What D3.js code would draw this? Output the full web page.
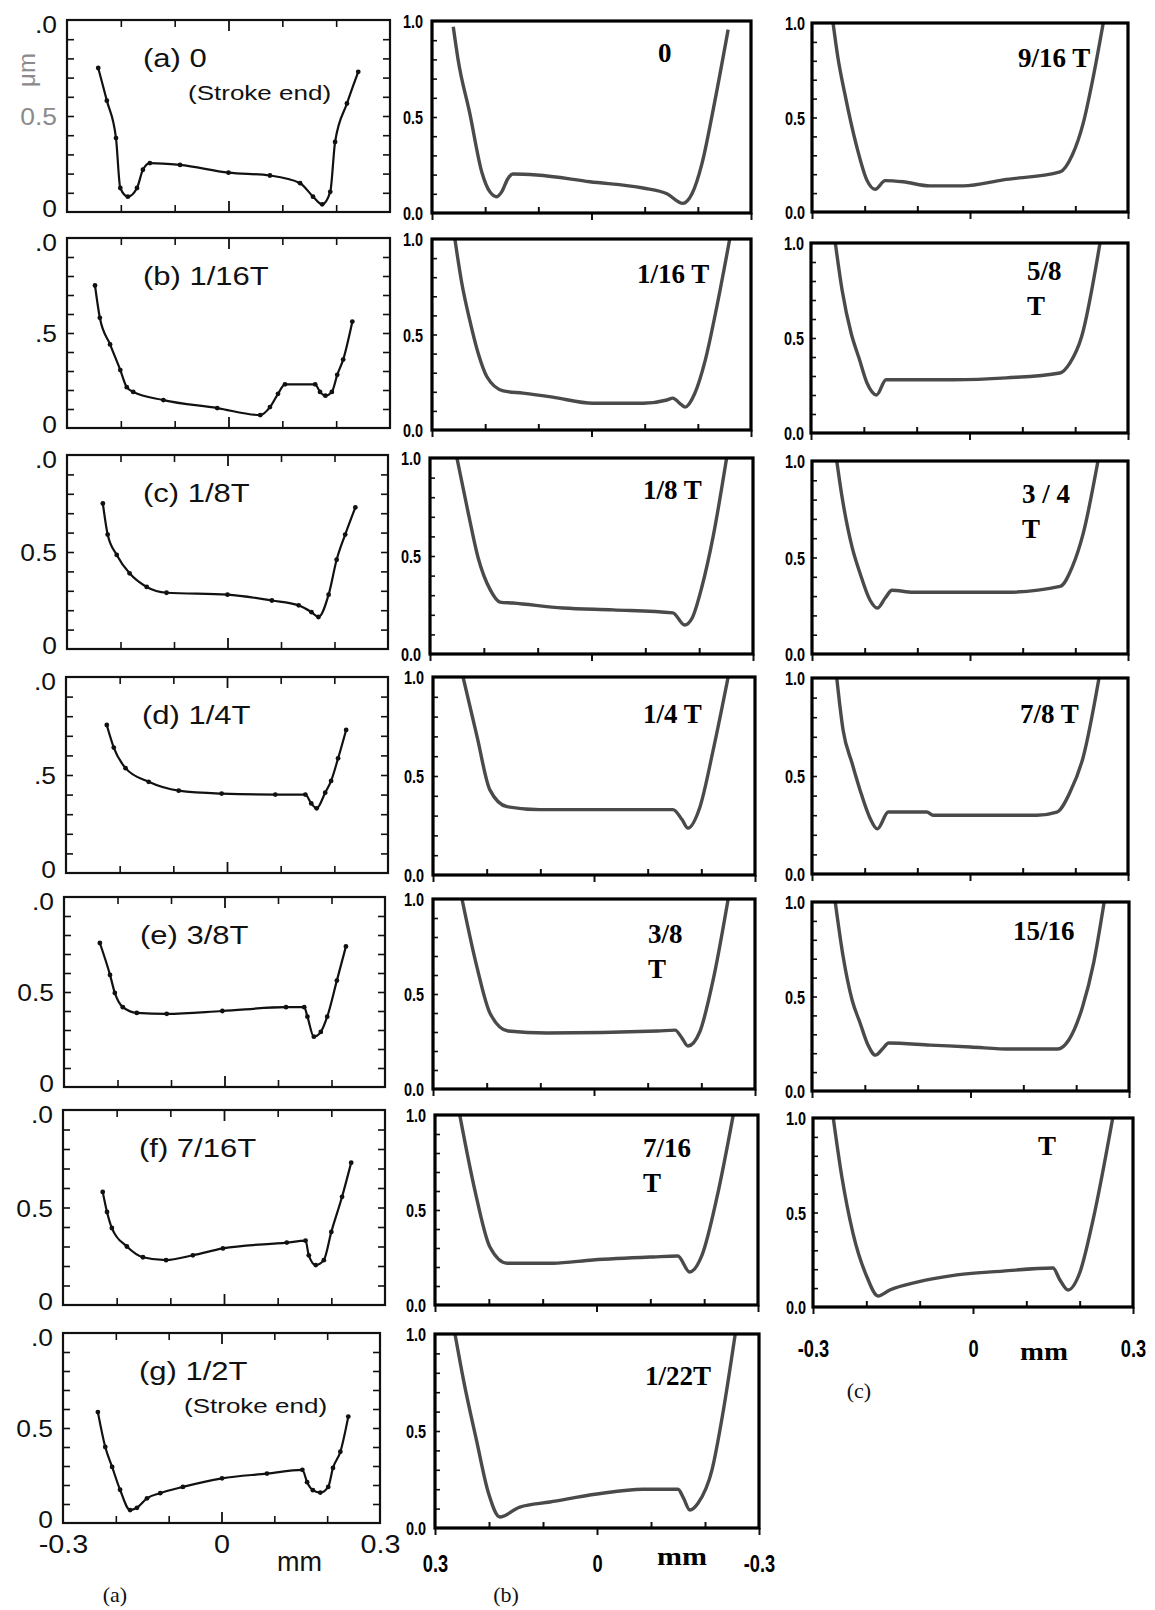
<!DOCTYPE html>
<html>
<head>
<meta charset="utf-8">
<script src="https://cdn.jsdelivr.net/npm/d3@7"></script>
<style>
  body { margin: 0; background: #fff; }
  svg { display: block; }
</style>
</head>
<body>
<svg id="fig" width="1155" height="1610"></svg>
<script>
// ---- data: film thickness (um) vs position (mm) ----
// column (a): measured, with markers
const titlesA = ["(a) 0", "(b) 1/16T", "(c) 1/8T", "(d) 1/4T", "(e) 3/8T", "(f) 7/16T", "(g) 1/2T"];
const notesA = ["(Stroke end)", "", "", "", "", "", "(Stroke end)"];
const midLabelsA = ["0.5", ".5", "0.5", ".5", "0.5", "0.5", "0.5"];

const filmA_0 = [[-0.242,0.75],[-0.226,0.58],[-0.209,0.385],[-0.201,0.125],[-0.187,0.08],[-0.17,0.125],[-0.159,0.22],[-0.146,0.255],[-0.09,0.245],[0.0,0.205],[0.077,0.19],[0.133,0.15],[0.157,0.08],[0.174,0.04],[0.189,0.105],[0.198,0.365],[0.22,0.565],[0.241,0.73]];
const filmA_1 = [[-0.248,0.75],[-0.239,0.58],[-0.22,0.44],[-0.201,0.305],[-0.189,0.215],[-0.177,0.19],[-0.121,0.147],[-0.021,0.105],[0.059,0.068],[0.077,0.11],[0.092,0.18],[0.105,0.23],[0.161,0.23],[0.17,0.19],[0.18,0.17],[0.192,0.19],[0.202,0.28],[0.213,0.36],[0.23,0.56]];
const filmA_2 = [[-0.233,0.75],[-0.224,0.59],[-0.207,0.485],[-0.183,0.39],[-0.151,0.32],[-0.114,0.29],[0.0,0.28],[0.083,0.25],[0.133,0.225],[0.157,0.19],[0.17,0.165],[0.189,0.28],[0.204,0.46],[0.22,0.59],[0.239,0.73]];
const filmA_3 = [[-0.224,0.755],[-0.211,0.64],[-0.189,0.535],[-0.146,0.465],[-0.09,0.42],[-0.01,0.405],[0.09,0.40],[0.146,0.40],[0.157,0.355],[0.167,0.33],[0.183,0.41],[0.194,0.47],[0.207,0.585],[0.222,0.73]];
const filmA_4 = [[-0.233,0.758],[-0.214,0.59],[-0.205,0.495],[-0.19,0.42],[-0.164,0.39],[-0.108,0.385],[-0.004,0.40],[0.115,0.42],[0.149,0.42],[0.155,0.37],[0.167,0.265],[0.18,0.29],[0.192,0.37],[0.21,0.56],[0.227,0.74]];
const filmA_5 = [[-0.226,0.58],[-0.218,0.477],[-0.209,0.395],[-0.181,0.30],[-0.151,0.245],[-0.108,0.23],[-0.058,0.255],[-0.002,0.29],[0.117,0.32],[0.152,0.33],[0.158,0.255],[0.171,0.205],[0.186,0.23],[0.2,0.375],[0.22,0.555],[0.237,0.73]];
const filmA_6 = [[-0.234,0.584],[-0.22,0.40],[-0.207,0.295],[-0.192,0.175],[-0.173,0.068],[-0.16,0.08],[-0.141,0.13],[-0.116,0.157],[-0.073,0.19],[0.001,0.235],[0.086,0.26],[0.153,0.28],[0.162,0.215],[0.173,0.173],[0.187,0.16],[0.202,0.19],[0.211,0.29],[0.225,0.375],[0.24,0.56]];
const seriesA = [filmA_0, filmA_1, filmA_2, filmA_3, filmA_4, filmA_5, filmA_6];

// column (b): computed, x axis runs 0.3 -> -0.3
const titlesB = [["0"], ["1/16 T"], ["1/8 T"], ["1/4 T"], ["3/8", "T"], ["7/16", "T"], ["1/22T"]];
const filmB_0 = [[0.26,0.97],[0.251,0.80],[0.229,0.52],[0.206,0.21],[0.191,0.11],[0.178,0.085],[0.169,0.11],[0.157,0.18],[0.148,0.203],[0.103,0.198],[0.003,0.163],[-0.097,0.13],[-0.142,0.10],[-0.172,0.05],[-0.189,0.10],[-0.208,0.26],[-0.229,0.54],[-0.257,0.955]];
const filmB_1 = [[0.257,1.0],[0.244,0.77],[0.229,0.575],[0.213,0.40],[0.197,0.28],[0.166,0.205],[0.129,0.193],[0.073,0.172],[-0.003,0.14],[-0.097,0.14],[-0.142,0.157],[-0.153,0.167],[-0.166,0.14],[-0.176,0.12],[-0.194,0.19],[-0.214,0.366],[-0.236,0.65],[-0.26,1.0]];
const filmB_2 = [[0.25,1.0],[0.229,0.72],[0.211,0.495],[0.188,0.327],[0.17,0.265],[0.146,0.26],[0.053,0.235],[-0.04,0.225],[-0.151,0.21],[-0.173,0.148],[-0.187,0.184],[-0.205,0.342],[-0.226,0.60],[-0.251,1.0]];
const filmB_3 = [[0.244,1.0],[0.218,0.70],[0.194,0.43],[0.162,0.345],[0.101,0.33],[-0.147,0.33],[-0.164,0.28],[-0.175,0.237],[-0.197,0.34],[-0.222,0.63],[-0.25,1.0]];
const filmB_4 = [[0.246,1.0],[0.218,0.64],[0.194,0.40],[0.16,0.305],[0.088,0.295],[-0.118,0.305],[-0.151,0.31],[-0.164,0.268],[-0.175,0.226],[-0.197,0.30],[-0.222,0.574],[-0.25,1.0]];
const filmB_5 = [[0.254,1.0],[0.226,0.605],[0.198,0.305],[0.166,0.22],[0.081,0.22],[0.007,0.237],[-0.105,0.253],[-0.151,0.258],[-0.173,0.174],[-0.196,0.263],[-0.224,0.57],[-0.254,1.0]];
const filmB_6 = [[0.263,1.0],[0.247,0.76],[0.223,0.45],[0.201,0.18],[0.18,0.057],[0.143,0.108],[0.087,0.134],[0.0,0.175],[-0.085,0.2],[-0.15,0.2],[-0.16,0.155],[-0.172,0.093],[-0.187,0.128],[-0.213,0.30],[-0.233,0.59],[-0.256,1.0]];
const seriesB = [filmB_0, filmB_1, filmB_2, filmB_3, filmB_4, filmB_5, filmB_6];

// column (c): computed, second half of the cycle
const titlesC = [["9/16 T"], ["5/8", "T"], ["3 / 4", "T"], ["7/8 T"], ["15/16"], ["T"]];
const filmC_0 = [[-0.26,1.0],[-0.251,0.82],[-0.238,0.63],[-0.215,0.345],[-0.196,0.17],[-0.18,0.12],[-0.161,0.166],[-0.127,0.16],[-0.076,0.138],[-0.013,0.138],[0.063,0.17],[0.171,0.212],[0.194,0.30],[0.215,0.47],[0.233,0.70],[0.253,1.0]];
const filmC_1 = [[-0.254,1.0],[-0.241,0.75],[-0.224,0.525],[-0.209,0.393],[-0.194,0.263],[-0.176,0.2],[-0.158,0.28],[-0.032,0.28],[0.07,0.29],[0.171,0.316],[0.19,0.368],[0.212,0.505],[0.247,1.0]];
const filmC_2 = [[-0.253,1.0],[-0.243,0.815],[-0.224,0.555],[-0.209,0.42],[-0.19,0.28],[-0.176,0.238],[-0.161,0.29],[-0.148,0.33],[-0.108,0.32],[0.07,0.32],[0.171,0.35],[0.194,0.45],[0.215,0.625],[0.243,1.0]];
const filmC_3 = [[-0.253,1.0],[-0.241,0.735],[-0.224,0.566],[-0.209,0.43],[-0.19,0.286],[-0.176,0.23],[-0.155,0.316],[-0.082,0.316],[-0.07,0.30],[0.127,0.30],[0.165,0.316],[0.19,0.418],[0.215,0.597],[0.245,1.0]];
const filmC_4 = [[-0.256,1.0],[-0.241,0.71],[-0.224,0.48],[-0.209,0.36],[-0.194,0.243],[-0.18,0.19],[-0.165,0.228],[-0.155,0.254],[-0.076,0.243],[0.0,0.233],[0.076,0.222],[0.165,0.222],[0.186,0.27],[0.212,0.445],[0.233,0.677],[0.253,1.0]];
const filmC_5 = [[-0.262,1.0],[-0.246,0.69],[-0.225,0.39],[-0.199,0.16],[-0.178,0.058],[-0.156,0.09],[-0.105,0.132],[-0.03,0.17],[0.056,0.19],[0.15,0.206],[0.163,0.143],[0.178,0.09],[0.2,0.18],[0.225,0.46],[0.262,1.0]];
const seriesC = [filmC_0, filmC_1, filmC_2, filmC_3, filmC_4, filmC_5];

// ticks
const yMinor = [0.1, 0.2, 0.3, 0.4, 0.5, 0.6, 0.7, 0.8, 0.9];
const xMinor = [-0.2, -0.1, 0.1, 0.2];
const xMajor = [-0.3, 0, 0.3];
const yLabelVals = [0, 0.5, 1.0];
const xLabelsA = ["-0.3", "0", "0.3"];
const xLabelsB = ["0.3", "0", "-0.3"];
const xLabelsC = ["-0.3", "0", "0.3"];

// ---- layout: panel frames [left, right, top, bottom] ----
const layoutA = [[67,390,20,212],[67,390,238,428],[67,388,455,649],[66,388,677,873],[64,385,897,1087],[63,385,1110,1305],[63,380,1333,1523]];
const layoutB = [[432,751,21,213],[432,751,239,430],[430,753,458,654],[433,755,677,875],[433,755,899,1089],[435,758,1115,1305],[435,759,1334,1528]];
const layoutC = [[812,1128,23,212],[811,1128,243,433],[812,1128,461,654],[812,1128,678,874],[812,1129,902,1091],[813,1133,1118,1307]];
const titlePosB = [[658,62],[637,283],[643,499],[643,723],[648,943],[643,1157],[645,1385]];
const titlePosC = [[1018,67],[1027,280],[1022,503],[1020,723],[1013,940],[1038,1155]];

const sans = "'Liberation Sans', Arial, Helvetica, sans-serif";
const serif = "'Liberation Serif', 'Times New Roman', serif";

const svg = d3.select('#fig');
svg.append('rect').attr('width', 1155).attr('height', 1610).attr('fill', '#fff');
const defs = svg.append('defs');

function stretch(sel, k) {
    sel.each(function() {
        const w = this.getComputedTextLength();
        d3.select(this).attr('textLength', w * k).attr('lengthAdjust', 'spacingAndGlyphs');
    });
}

function cleanAxis(ax, w) {
    ax.select('.domain').remove();
    ax.selectAll('.tick line').attr('stroke', '#111').attr('stroke-width', w);
}

// ---- column (a) ----
seriesA.forEach((data, i) => {
    const [l, r, t, b] = layoutA[i];
    const x = d3.scaleLinear().domain([-0.3, 0.3]).range([l, r]);
    const y = d3.scaleLinear().domain([0, 1]).range([b, t]);
    const g = svg.append('g');

    cleanAxis(g.append('g').attr('transform', `translate(${l},0)`)
        .call(d3.axisLeft(y).tickValues(yMinor).tickSize(-7).tickFormat('')), 1.6);
    cleanAxis(g.append('g').attr('transform', `translate(${r},0)`)
        .call(d3.axisRight(y).tickValues(yMinor).tickSize(-7).tickFormat('')), 1.6);
    cleanAxis(g.append('g').attr('transform', `translate(0,${b})`)
        .call(d3.axisBottom(x).tickValues(xMinor).tickSize(-7).tickFormat('')), 1.6);
    cleanAxis(g.append('g').attr('transform', `translate(0,${t})`)
        .call(d3.axisTop(x).tickValues(xMinor).tickSize(-7).tickFormat('')), 1.6);
    cleanAxis(g.append('g').attr('transform', `translate(0,${b})`)
        .call(d3.axisBottom(x).tickValues([0]).tickSize(-11).tickFormat('')), 1.8);
    cleanAxis(g.append('g').attr('transform', `translate(0,${t})`)
        .call(d3.axisTop(x).tickValues([0]).tickSize(-11).tickFormat('')), 1.8);

    g.append('rect').attr('x', l).attr('y', t).attr('width', r - l).attr('height', b - t)
        .attr('fill', 'none').attr('stroke', '#111').attr('stroke-width', 2.2);

    const yl = g.append('g').attr('transform', `translate(${l},0)`)
        .call(d3.axisLeft(y).tickValues(yLabelVals).tickSize(0).tickPadding(10)
            .tickFormat((d, k) => [ "0", midLabelsA[i], ".0" ][k]));
    yl.select('.domain').remove();
    yl.selectAll('text').attr('font-family', sans).attr('font-size', 24).attr('fill', '#111')
        .attr('dy', d => d === 0 ? '0.18em' : d === 1 ? '0.52em' : '0.36em');
    if (i === 0) yl.selectAll('text').filter((d) => d === 0.5).attr('fill', '#8a8a8a');
    stretch(yl.selectAll('text'), 1.1);

    g.append('path').datum(data)
        .attr('d', d3.line().x(d => x(d[0])).y(d => y(d[1])).curve(d3.curveMonotoneX))
        .attr('fill', 'none').attr('stroke', '#111').attr('stroke-width', 2.2);
    g.selectAll('circle').data(data).join('circle')
        .attr('cx', d => x(d[0])).attr('cy', d => y(d[1])).attr('r', 2.4).attr('fill', '#111');

    const tt = g.append('text').attr('x', l + 76).attr('y', t + 47)
        .attr('font-family', sans).attr('font-size', 25).attr('fill', '#111').text(titlesA[i]);
    stretch(tt, 1.24);
    if (notesA[i]) {
        const nt = g.append('text').attr('x', l + 121).attr('y', t + 80)
            .attr('font-family', sans).attr('font-size', 20).attr('fill', '#111').text(notesA[i]);
        stretch(nt, 1.3);
    }

    if (i === seriesA.length - 1) {
        const xl = g.append('g').attr('transform', `translate(0,${b})`)
            .call(d3.axisBottom(x).tickValues(xMajor).tickSize(0).tickPadding(12)
                .tickFormat((d, k) => xLabelsA[k]));
        xl.select('.domain').remove();
        xl.selectAll('text').attr('font-family', sans).attr('font-size', 25).attr('fill', '#111');
        stretch(xl.selectAll('text'), 1.15);
    }
});

svg.append('text').attr('transform', 'translate(35,70) rotate(-90)')
    .attr('text-anchor', 'middle').attr('font-family', sans).attr('font-size', 24)
    .attr('fill', '#8a8a8a').text('μm');
svg.append('text').attr('x', 277).attr('y', 1571).attr('font-family', sans)
    .attr('font-size', 27).attr('fill', '#111').text('mm');
svg.append('text').attr('x', 115).attr('y', 1602).attr('text-anchor', 'middle')
    .attr('font-family', serif).attr('font-size', 22).attr('fill', '#111').text('(a)');

// ---- columns (b) and (c): shared drawing ----
function drawSimPanel(data, frame, domain, title, pos, last, xLabels, idx, col) {
    const [l, r, t, b] = frame;
    const x = d3.scaleLinear().domain(domain).range([l, r]);
    const y = d3.scaleLinear().domain([0, 1]).range([b, t]);
    const g = svg.append('g');
    const clipId = `clip-${col}-${idx}`;
    defs.append('clipPath').attr('id', clipId).append('rect')
        .attr('x', l).attr('y', t).attr('width', r - l).attr('height', b - t);

    cleanAxis(g.append('g').attr('transform', `translate(${l},0)`)
        .call(d3.axisLeft(y).tickValues(yMinor).tickSize(-5).tickFormat('')), 1.6);
    cleanAxis(g.append('g').attr('transform', `translate(0,${b})`)
        .call(d3.axisBottom(x).tickValues(xMinor).tickSize(-6).tickFormat('')), 2);
    cleanAxis(g.append('g').attr('transform', `translate(0,${b})`)
        .call(d3.axisBottom(x).tickValues(xMajor).tickSize(7).tickFormat('')), 2);

    g.append('path').datum(data)
        .attr('clip-path', `url(#${clipId})`)
        .attr('d', d3.line().x(d => x(d[0])).y(d => y(d[1])).curve(d3.curveMonotoneX))
        .attr('fill', 'none').attr('stroke', '#4a4a4a').attr('stroke-width', 3.4)
        .attr('stroke-linejoin', 'round');

    g.append('rect').attr('x', l).attr('y', t).attr('width', r - l).attr('height', b - t)
        .attr('fill', 'none').attr('stroke', '#000').attr('stroke-width', 3.2);

    const yl = g.append('g').attr('transform', `translate(${l},0)`)
        .call(d3.axisLeft(y).tickValues(yLabelVals).tickSize(0).tickPadding(col === 'b' ? 9 : 7)
            .tickFormat(d3.format('.1f')));
    yl.select('.domain').remove();
    yl.selectAll('text').attr('font-family', sans).attr('font-weight', 'bold')
        .attr('font-size', 19).attr('fill', '#000').attr('dy', '0.36em');
    stretch(yl.selectAll('text'), 0.76);

    title.forEach((line, k) => {
        g.append('text').attr('x', pos[0]).attr('y', pos[1] + k * 35)
            .attr('font-family', serif).attr('font-weight', 'bold').attr('font-size', 27)
            .attr('fill', '#000').text(line);
    });

    if (last) {
        const xl = g.append('g').attr('transform', `translate(0,${b})`)
            .call(d3.axisBottom(x).tickValues(xMajor.slice().sort((p, q) => domain[0] > domain[1] ? q - p : p - q))
                .tickSize(0).tickPadding(col === 'b' ? 27 : 33)
                .tickFormat((d, k) => xLabels[k]));
        xl.select('.domain').remove();
        xl.selectAll('text').attr('font-family', sans).attr('font-weight', 'bold')
            .attr('font-size', 24).attr('fill', '#000');
        stretch(xl.selectAll('text'), 0.76);
    }
}

seriesB.forEach((data, i) => drawSimPanel(data, layoutB[i], [0.3, -0.3], titlesB[i], titlePosB[i],
    i === seriesB.length - 1, xLabelsB, i, 'b'));
seriesC.forEach((data, i) => drawSimPanel(data, layoutC[i], [-0.3, 0.3], titlesC[i], titlePosC[i],
    i === seriesC.length - 1, xLabelsC, i, 'c'));

const mmB = svg.append('text').attr('x', 657).attr('y', 1565).attr('font-family', serif)
    .attr('font-weight', 'bold').attr('font-size', 25).attr('fill', '#000').text('mm');
stretch(mmB, 1.2);
const mmC = svg.append('text').attr('x', 1020).attr('y', 1360).attr('font-family', serif)
    .attr('font-weight', 'bold').attr('font-size', 25).attr('fill', '#000').text('mm');
stretch(mmC, 1.15);
svg.append('text').attr('x', 506).attr('y', 1602).attr('text-anchor', 'middle')
    .attr('font-family', serif).attr('font-size', 22).attr('fill', '#111').text('(b)');
svg.append('text').attr('x', 859).attr('y', 1398).attr('text-anchor', 'middle')
    .attr('font-family', serif).attr('font-size', 22).attr('fill', '#111').text('(c)');
</script>
</body>
</html>
